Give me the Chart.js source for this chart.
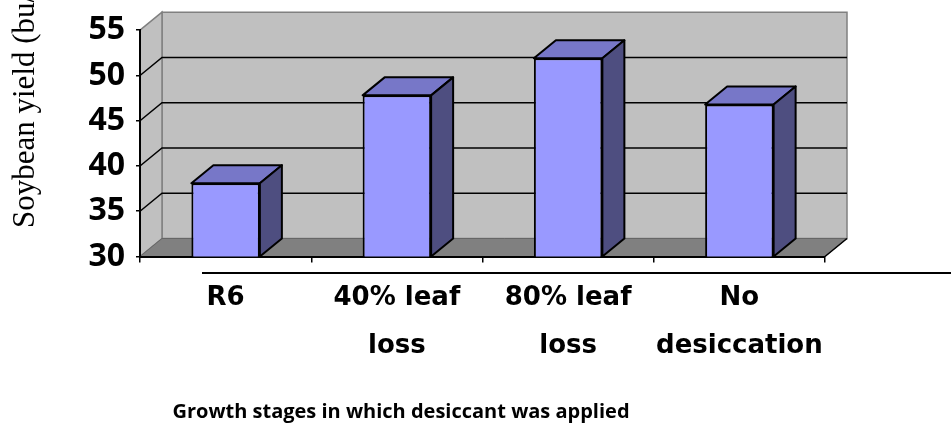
<!DOCTYPE html>
<html>
<head>
<meta charset="utf-8">
<script src="https://cdn.jsdelivr.net/npm/chart.js"></script>
<style>
html, body { margin: 0; padding: 0; background: #fff; }
#wrap { width: 951px; height: 426px; }
</style>
</head>
<body>
<div id="wrap"><canvas id="yieldChart"></canvas></div>
<script>
var stages = [['R6'], ['40% leaf', 'loss'], ['80% leaf', 'loss'], ['No', 'desiccation']];
var yieldValues = [38.1, 47.8, 51.9, 46.8];
var yTicks = [30, 35, 40, 45, 50, 55];
var yTitle = 'Soybean yield (bu/acre)';
var xTitle = 'Growth stages in which desiccant was applied';

// 3d depth offset
var DX = 22, DY = -18;

function poly(ctx, pts, fill, stroke, lw) {
    ctx.beginPath();
    ctx.moveTo(pts[0][0], pts[0][1]);
    for (var i = 1; i < pts.length; i++) ctx.lineTo(pts[i][0], pts[i][1]);
    ctx.closePath();
    if (fill) { ctx.fillStyle = fill; ctx.fill(); }
    if (stroke) { ctx.strokeStyle = stroke; ctx.lineWidth = lw || 1; ctx.stroke(); }
}

var wallsPlugin = {
    id: 'walls',
    beforeDraw: function(chart) {
        var ctx = chart.ctx, a = chart.chartArea, ys = chart.scales.y;
        ctx.save();
        ctx.fillStyle = '#fff';
        ctx.fillRect(0, 0, chart.width, chart.height);
        // back wall
        poly(ctx, [[a.left + DX, a.top + DY], [a.right + DX, a.top + DY], [a.right + DX, a.bottom + DY], [a.left + DX, a.bottom + DY]], '#c0c0c0', '#808080', 1.5);
        // left side wall
        poly(ctx, [[a.left, a.top], [a.left + DX, a.top + DY], [a.left + DX, a.bottom + DY], [a.left, a.bottom]], '#c0c0c0', '#808080', 1.5);
        // floor
        poly(ctx, [[a.left, a.bottom], [a.left + DX, a.bottom + DY], [a.right + DX, a.bottom + DY], [a.right, a.bottom]], '#808080', '#666', 1);
        // gridlines on side and back wall
        ctx.strokeStyle = '#000';
        ctx.lineWidth = 1.5;
        ys.ticks.forEach(function(t) {
            if (t.value <= ys.min || t.value >= ys.max) return;
            var y = ys.getPixelForValue(t.value);
            ctx.beginPath();
            ctx.moveTo(a.left, y);
            ctx.lineTo(a.left + DX, y + DY);
            ctx.lineTo(a.right + DX, y + DY);
            ctx.stroke();
        });
        // front right floor edge
        ctx.beginPath();
        ctx.moveTo(a.right, a.bottom);
        ctx.lineTo(a.right + DX, a.bottom + DY);
        ctx.stroke();
        ctx.restore();
    },
    afterDatasetsDraw: function(chart) {
        var ctx = chart.ctx;
        var meta = chart.getDatasetMeta(0);
        var base = chart.scales.y.getPixelForValue(chart.scales.y.min);
        ctx.save();
        ctx.lineJoin = 'round';
        meta.data.forEach(function(el) {
            var p = el.getProps(['x', 'y', 'width'], true);
            var x1 = p.x - p.width / 2, x2 = p.x + p.width / 2;
            var top = p.y;
            poly(ctx, [[x1, top], [x1 + DX, top + DY], [x2 + DX, top + DY], [x2, top]], '#7777c8', '#000', 2);
            poly(ctx, [[x2, top], [x2 + DX, top + DY], [x2 + DX, base + DY], [x2, base]], '#4e4e80', '#000', 2);
        });
        ctx.restore();
    },
    afterDraw: function(chart) {
        var ctx = chart.ctx, a = chart.chartArea;
        ctx.save();
        // stray rule under the axis
        ctx.strokeStyle = '#000';
        ctx.lineWidth = 2;
        ctx.beginPath();
        ctx.moveTo(202, a.bottom + 16.5);
        ctx.lineTo(chart.width, a.bottom + 16.5);
        ctx.stroke();
        // y title (clipped at top like the original)
        ctx.fillStyle = '#000';
        ctx.font = '31px "Liberation Serif"';
        ctx.textAlign = 'left';
        ctx.textBaseline = 'alphabetic';
        ctx.translate(34, 228);
        ctx.rotate(-Math.PI / 2);
        ctx.fillText(yTitle, 0, 0);
        ctx.restore();
        ctx.save();
        ctx.fillStyle = '#000';
        ctx.font = 'bold 20px "Open Sans"';
        ctx.textAlign = 'center';
        ctx.textBaseline = 'alphabetic';
        ctx.fillText(xTitle, 401, 418);
        ctx.restore();
    }
};

new Chart(document.getElementById('yieldChart'), {
    type: 'bar',
    data: {
        labels: stages,
        datasets: [{
            label: 'Yield',
            data: yieldValues,
            backgroundColor: '#9999ff',
            borderColor: '#000',
            borderWidth: 2,
            barPercentage: 0.4,
            categoryPercentage: 1
        }]
    },
    options: {
        responsive: true,
        maintainAspectRatio: false,
        animation: false,
        layout: { padding: { top: 30, right: 126, left: 0, bottom: 0 } },
        plugins: { legend: { display: false }, tooltip: { enabled: false } },
        scales: {
            x: {
                afterFit: function(s) { s.height = 169.5; },
                grid: { drawOnChartArea: false, drawTicks: true, tickLength: 6, color: '#000', lineWidth: 1.5 },
                border: { display: true, color: '#000', width: 2 },
                ticks: {
                    color: '#000',
                    padding: 12,
                    maxRotation: 0,
                    autoSkip: false,
                    font: { family: 'DejaVu Sans', weight: 'bold', size: 26, lineHeight: 1.846 }
                }
            },
            y: {
                min: 30,
                max: 55,
                afterFit: function(s) { s.width = 140; },
                afterBuildTicks: function(s) {
                    s.ticks = yTicks.map(function(v) { return { value: v }; });
                },
                grid: { drawOnChartArea: false, drawTicks: true, tickLength: 4, color: '#000', lineWidth: 1.5 },
                border: { display: true, color: '#000', width: 2 },
                ticks: {
                    color: '#000',
                    padding: 11,
                    font: { family: 'Open Sans', weight: 'bold', size: 32 }
                }
            }
        }
    },
    plugins: [wallsPlugin]
});
</script>
</body>
</html>
